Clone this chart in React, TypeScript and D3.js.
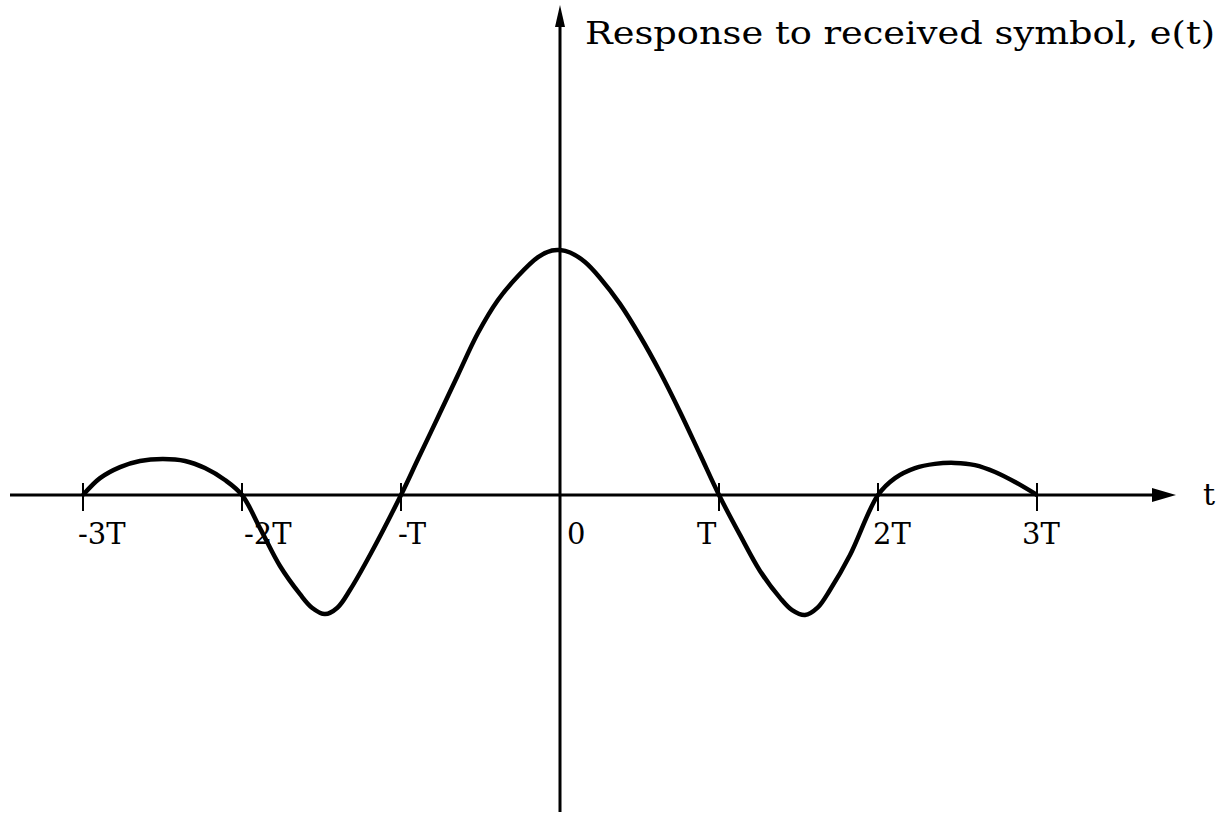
import React from "react";
import * as d3 from "d3";

// time in units of T
const tValues = [
  -3.0, -2.893, -2.767, -2.642, -2.497, -2.358, -2.233, -2.107, -2.0,
  -1.887, -1.761, -1.635, -1.56, -1.478, -1.40, -1.321, -1.195, -1.0,
  -0.893, -0.767, -0.642, -0.516, -0.39, -0.264, -0.138, -0.05, 0.0, 0.063, 0.157,
  0.252, 0.377, 0.503, 0.629, 0.755, 0.881, 1.0,
  1.132, 1.258, 1.384, 1.46, 1.541, 1.62, 1.698, 1.824, 2.0,
  2.107, 2.233, 2.358, 2.484, 2.61, 2.736, 2.862, 3.0,
];
// response e(t), normalised to peak 1
const eValues = [
  0, 0.069, 0.114, 0.139, 0.147, 0.139, 0.11, 0.061, 0,
  -0.135, -0.29, -0.405, -0.46, -0.486, -0.46, -0.388, -0.245, 0,
  0.147, 0.318, 0.49, 0.661, 0.796, 0.894, 0.971, 0.998, 1.0, 0.99, 0.951,
  0.886, 0.78, 0.649, 0.502, 0.339, 0.165, 0,
  -0.163, -0.31, -0.42, -0.47, -0.49, -0.46, -0.388, -0.245, 0,
  0.069, 0.11, 0.127, 0.131, 0.122, 0.094, 0.053, 0,
];
const tickValues = [-3, -2, -1, 0, 1, 2, 3];
const tickLabels = ["-3T", "-2T", "-T", "0", "T", "2T", "3T"];
const labelDx = [-5, 2, -3, 7, -22, -5, -15];
const titleText = "Response to received symbol,  e(t)";
const xAxisLabel = "t";

export default function App() {
  const W = 1223;
  const H = 816;
  const x = d3.scaleLinear().domain([-3, 3]).range([83, 1037]);
  const y = d3.scaleLinear().domain([0, 1]).range([495, 250]);
  const x0 = x(0);
  const y0 = y(0);
  const pts: [number, number][] = tValues.map((t, i) => [t, eValues[i]]);
  const line = d3
    .line<[number, number]>()
    .x((d) => x(d[0]))
    .y((d) => y(d[1]))
    .curve(d3.curveCatmullRom.alpha(0.5));
  const font = "'DejaVu Serif', 'Liberation Serif', serif";
  return (
    <svg
      width={W}
      height={H}
      style={{ position: "absolute", left: 0, top: 0, background: "#fff" }}
    >
      {/* x axis */}
      <line x1={10} x2={1155} y1={y0} y2={y0} stroke="#000" strokeWidth={3} />
      <path
        d={`M1176,${y0} L1152,${y0 - 7} L1152,${y0 + 7} Z`}
        fill="#000"
      />
      <text x={1203} y={y0 + 10} fontFamily={font} fontSize={30} fill="#000">
        {xAxisLabel}
      </text>
      {/* y axis */}
      <line x1={x0} x2={x0} y1={812} y2={22} stroke="#000" strokeWidth={3} />
      <path d={`M${x0},5 L${x0 - 5},27 L${x0 + 5},27 Z`} fill="#000" />
      <text
        x={585}
        y={44}
        fontFamily={font}
        fontSize={31}
        fill="#000"
        textLength={630}
        lengthAdjust="spacingAndGlyphs"
      >
        {titleText}
      </text>
      {/* ticks */}
      {tickValues.map((v, i) =>
        v === 0 ? null : (
          <line
            key={"t" + i}
            x1={x(v)}
            x2={x(v)}
            y1={y0 - 12}
            y2={y0 + 16}
            stroke="#000"
            strokeWidth={2}
          />
        )
      )}
      {tickLabels.map((s, i) => (
        <text
          key={"l" + i}
          x={x(tickValues[i]) + labelDx[i]}
          y={544}
          fontFamily={font}
          fontSize={29}
          fill="#000"
        >
          {s}
        </text>
      ))}
      <path
        d={line(pts) || ""}
        fill="none"
        stroke="#000"
        strokeWidth={4.5}
        strokeLinejoin="round"
      />
    </svg>
  );
}
